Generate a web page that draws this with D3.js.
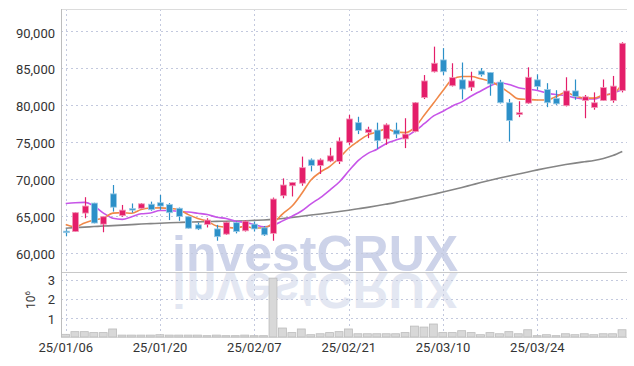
<!DOCTYPE html>
<html>
<head>
<meta charset="utf-8">
<script src="https://cdn.jsdelivr.net/npm/d3@7"></script>
<style>
    body { margin: 0; background: #fff; }
    svg text { font-family: Roboto, "Liberation Sans", sans-serif; }
</style>
</head>
<body>
<div id="chart"></div>
<script>
// trading days shown on the chart
var dates = ["25/01/06", "25/01/07", "25/01/08", "25/01/09", "25/01/10", "25/01/13", "25/01/14", "25/01/15", "25/01/16", "25/01/17",
    "25/01/20", "25/01/21", "25/01/22", "25/01/23", "25/01/24", "25/01/31", "25/02/03", "25/02/04", "25/02/05", "25/02/06",
    "25/02/07", "25/02/10", "25/02/11", "25/02/12", "25/02/13", "25/02/14", "25/02/17", "25/02/18", "25/02/19", "25/02/20",
    "25/02/21", "25/02/24", "25/02/25", "25/02/26", "25/02/27", "25/02/28", "25/03/04", "25/03/05", "25/03/06", "25/03/07",
    "25/03/10", "25/03/11", "25/03/12", "25/03/13", "25/03/14", "25/03/17", "25/03/18", "25/03/19", "25/03/20", "25/03/21",
    "25/03/24", "25/03/25", "25/03/26", "25/03/27", "25/03/28", "25/03/31", "25/04/01", "25/04/02", "25/04/03", "25/04/04"];

var openV = [62900, 62850, 65350, 66700, 63850, 67950, 65000, 65950, 66000, 66550,
    66750, 66500, 66000, 64850, 63750, 63800, 63200, 62500, 64050, 62950,
    63850, 63350, 62600, 67700, 69050, 69400, 72550, 71800, 72400, 72350,
    74900, 77600, 76250, 76600, 75400, 76600, 75400, 76400, 81000, 84500,
    86100, 82600, 83400, 82400, 84600, 84400, 83100, 80300, 78700, 80250,
    83400, 82100, 80900, 79900, 81900, 80600, 79650, 80600, 80600, 81950];
var highV = [63150, 65450, 67500, 66750, 64900, 69150, 66450, 66650, 66700, 66900,
    67800, 66700, 66100, 64900, 64050, 64650, 63750, 64200, 64200, 64400,
    64200, 63600, 67450, 70050, 69550, 73000, 72750, 72750, 74200, 75600,
    78650, 78400, 77050, 77600, 77500, 77600, 78200, 80400, 84050, 87900,
    87700, 85650, 85750, 84500, 85000, 84450, 83400, 80800, 80500, 85100,
    84150, 82950, 82000, 83750, 83450, 81350, 81700, 83450, 83930, 88500];
var lowV = [62200, 62800, 64650, 63950, 62750, 65550, 64850, 65400, 65950, 65650,
    65800, 64400, 64300, 63250, 63050, 63400, 61600, 62400, 62600, 62850,
    62850, 62250, 61600, 67350, 67600, 69050, 71000, 70650, 72250, 72000,
    74600, 76050, 75500, 74050, 74600, 75500, 74150, 76300, 80800, 84400,
    84050, 82500, 80750, 81900, 83850, 81250, 80200, 75050, 78350, 80150,
    82050, 79700, 80000, 79800, 80700, 78200, 79350, 80550, 80300, 81700];
var closeV = [62800, 65400, 66300, 64000, 64850, 66150, 65750, 65850, 66600, 65800,
    66300, 65400, 64900, 63300, 63200, 64400, 62150, 64100, 62850, 64250,
    63200, 62400, 67250, 69150, 69500, 71500, 71800, 72550, 73100, 75100,
    78100, 76550, 76700, 75150, 77300, 76050, 76050, 80300, 83250, 85650,
    84500, 83700, 82150, 83250, 84100, 82850, 80300, 77900, 78950, 83750,
    82500, 80300, 80150, 81900, 81150, 81100, 80300, 82350, 82550, 88350];
var volume = [140000, 280000, 280000, 230000, 230000, 420000, 100000, 100000, 100000, 100000,
    120000, 100000, 100000, 100000, 100000, 70000, 100000, 70000, 70000, 100000,
    70000, 70000, 3080000, 470000, 230000, 420000, 120000, 170000, 230000, 280000,
    420000, 170000, 170000, 170000, 170000, 170000, 230000, 570000, 520000, 680000,
    230000, 230000, 330000, 230000, 120000, 230000, 170000, 280000, 170000, 380000,
    70000, 120000, 70000, 170000, 120000, 170000, 120000, 170000, 170000, 380000];

// moving averages as drawn
var ma5 = [63800, 63500, 64000, 64400, 64670, 65340, 65410, 65320, 65840, 66030,
    66060, 65990, 65800, 65140, 64620, 64240, 63590, 63430, 63340, 63550,
    63310, 63360, 63990, 65250, 66300, 67960, 69840, 70900, 71690, 72810,
    74130, 75080, 75910, 76320, 76760, 76350, 76250, 76970, 78590, 80260,
    81950, 83480, 83850, 83850, 83540, 83210, 82530, 81680, 80820, 80750,
    80680, 80680, 81130, 81720, 81200, 80920, 80920, 81360, 81490, 82930];
var ma10 = [66650, 66750, 66800, 66300, 65350, 64650, 64500, 64850, 65250, 65350,
    65700, 65700, 65560, 65490, 65325, 65150, 64790, 64615, 64240, 64085,
    63775, 63475, 63710, 64295, 64925, 65635, 66600, 67445, 68470, 69555,
    71045, 72460, 73405, 74005, 74785, 75240, 75665, 76440, 77455, 78510,
    79150, 79865, 80410, 81220, 81900, 82580, 83005, 82765, 82335, 82145,
    81945, 81605, 81405, 81270, 80975, 80800, 80800, 81245, 81605, 82065];
var maLong = [63300, 63380, 63450, 63520, 63590, 63650, 63720, 63790, 63860, 63920,
    63980, 64030, 64080, 64120, 64160, 64190, 64220, 64250, 64280, 64310,
    64360, 64420, 64500, 64620, 64760, 64920, 65080, 65230, 65390, 65560,
    65740, 65930, 66120, 66330, 66560, 66800, 67070, 67340, 67620, 67910,
    68200, 68500, 68820, 69150, 69480, 69800, 70100, 70380, 70650, 70920,
    71200, 71460, 71700, 71920, 72120, 72300, 72480, 72750, 73150, 73700];

var priceTicks = [60000, 65000, 70000, 75000, 80000, 85000, 90000];
var volumeTicks = [1000000, 2000000, 3000000];
var dateTicks = ["25/01/06", "25/01/20", "25/02/07", "25/02/21", "25/03/10", "25/03/24"];

var width = 634, height = 366;
var left = 61, right = 627;
var priceTop = 9, priceBottom = 271, volTop = 272, volBottom = 337;
var upColor = "#e41e6a", downColor = "#2c90c8";

var svg = d3.select("#chart")
    .append("svg")
    .attr("width", width)
    .attr("height", height);

var xScale = d3.scaleBand().domain(dates).range([left, right]).padding(0);
function cx(d) { return xScale(d) + xScale.bandwidth() / 2; }
var yScale = d3.scaleLinear().domain([57500, 93000]).range([priceBottom, priceTop]);
var vScale = d3.scaleLinear().domain([0, 3400000]).range([volBottom, volTop]);

// watermark + reflection
svg.append("text")
    .text("investCRUX")
    .attr("x", 172).attr("y", 271)
    .attr("font-size", 50).attr("font-weight", "bold")
    .style("font-family", "'Liberation Sans', Arial, sans-serif")
    .attr("fill", "#cdd3e9");
svg.append("g")
    .attr("transform", "translate(0," + (2 * 272) + ") scale(1,-1)")
    .append("text")
    .text("investCRUX")
    .attr("x", 172).attr("y", 271)
    .attr("font-size", 50).attr("font-weight", "bold")
    .style("font-family", "'Liberation Sans', Arial, sans-serif")
    .attr("fill", "#e3e7f2");

// grid
var grid = svg.append("g").attr("stroke", "#c3c9de").attr("stroke-dasharray", "2,3").attr("stroke-width", 1);
grid.selectAll(".hp").data(priceTicks).enter().append("line")
    .attr("x1", left).attr("x2", right)
    .attr("y1", function(d) { return Math.round(yScale(d)) + 0.5; })
    .attr("y2", function(d) { return Math.round(yScale(d)) + 0.5; });
grid.selectAll(".hv").data(volumeTicks).enter().append("line")
    .attr("x1", left).attr("x2", right)
    .attr("y1", function(d) { return Math.round(vScale(d)) + 0.5; })
    .attr("y2", function(d) { return Math.round(vScale(d)) + 0.5; });
grid.selectAll(".vx").data(dateTicks).enter().append("line")
    .attr("x1", function(d) { return Math.round(cx(d)) + 0.5; })
    .attr("x2", function(d) { return Math.round(cx(d)) + 0.5; })
    .attr("y1", priceTop).attr("y2", volBottom);

// frame
svg.append("line").attr("x1", left).attr("x2", right).attr("y1", priceTop + 0.5).attr("y2", priceTop + 0.5).attr("stroke", "#dcdcdc");
svg.append("line").attr("x1", left).attr("x2", right).attr("y1", volTop + 0.5).attr("y2", volTop + 0.5).attr("stroke", "#c8c8c8");
svg.append("line").attr("x1", left).attr("x2", right).attr("y1", volBottom + 0.5).attr("y2", volBottom + 0.5).attr("stroke", "#dcdcdc");
svg.append("line").attr("x1", left + 0.5).attr("x2", left + 0.5).attr("y1", priceTop).attr("y2", volBottom).attr("stroke", "#bdbdbd");

// volume bars
svg.append("g").selectAll("rect").data(dates).enter().append("rect")
    .attr("x", function(d) { return xScale(d) + 0.5; })
    .attr("width", xScale.bandwidth() - 1.5)
    .attr("y", function(d, i) { return vScale(volume[i]); })
    .attr("height", function(d, i) { return volBottom - vScale(volume[i]); })
    .attr("fill", "#d8d8d8")
    .attr("stroke", "#bcbcbc")
    .attr("stroke-width", 0.8);

// moving average lines
var line = d3.line()
    .x(function(d, i) { return cx(dates[i]); })
    .y(function(d) { return yScale(d); })
    .curve(d3.curveMonotoneX);
svg.append("path").datum(maLong).attr("d", line).attr("fill", "none").attr("stroke", "#858585").attr("stroke-width", 1.6);
svg.append("path").datum(ma10).attr("d", line).attr("fill", "none").attr("stroke", "#c755e8").attr("stroke-width", 1.6);
svg.append("path").datum(ma5).attr("d", line).attr("fill", "none").attr("stroke", "#f08848").attr("stroke-width", 1.6);

// candles
var candles = svg.append("g").selectAll("g").data(dates).enter().append("g");
candles.append("line")
    .attr("x1", function(d) { return Math.round(cx(d)) + 0.5; })
    .attr("x2", function(d) { return Math.round(cx(d)) + 0.5; })
    .attr("y1", function(d, i) { return yScale(highV[i]); })
    .attr("y2", function(d, i) { return yScale(lowV[i]); })
    .attr("stroke", function(d, i) { return closeV[i] >= openV[i] ? upColor : downColor; })
    .attr("stroke-width", 1.2);
candles.append("rect")
    .attr("x", function(d) { return Math.round(cx(d)) - 2.5; })
    .attr("width", 6)
    .attr("y", function(d, i) { return yScale(Math.max(openV[i], closeV[i])); })
    .attr("height", function(d, i) { return Math.max(1.5, Math.abs(yScale(openV[i]) - yScale(closeV[i]))); })
    .attr("fill", function(d, i) { return closeV[i] >= openV[i] ? upColor : downColor; })
    .attr("stroke", function(d, i) { return closeV[i] >= openV[i] ? "#f29ab9" : "#9ccbe6"; })
    .attr("stroke-width", 0.8);

// axes
var yAxis = d3.axisLeft(yScale).tickValues(priceTicks).tickSize(0).tickPadding(6).tickFormat(d3.format(","));
var gy = svg.append("g").attr("transform", "translate(" + left + ",0)").call(yAxis);
var vAxis = d3.axisLeft(vScale).tickValues(volumeTicks).tickSize(0).tickPadding(6)
    .tickFormat(function(d) { return d / 1000000; });
var gv = svg.append("g").attr("transform", "translate(" + left + ",0)").call(vAxis);
var xAxis = d3.axisBottom(xScale).tickValues(dateTicks).tickSize(0).tickPadding(6);
var gx = svg.append("g").attr("transform", "translate(0," + volBottom + ")").call(xAxis);

[gy, gv, gx].forEach(function(g) {
    g.select(".domain").remove();
    g.selectAll("text").attr("fill", "#333").attr("font-size", 13)
        .style("font-family", "Roboto, 'Liberation Sans', sans-serif");
});
gy.selectAll("text").attr("dy", "0.45em");
gv.selectAll("text").attr("dy", "0.4em");

// volume unit label
var unit = svg.append("text")
    .attr("transform", "translate(35,300) rotate(-90)")
    .attr("text-anchor", "middle")
    .attr("fill", "#333")
    .attr("font-size", 12);
unit.append("tspan").text("10");
unit.append("tspan").text("6").attr("font-size", 8).attr("dy", -5);
</script>
</body>
</html>
